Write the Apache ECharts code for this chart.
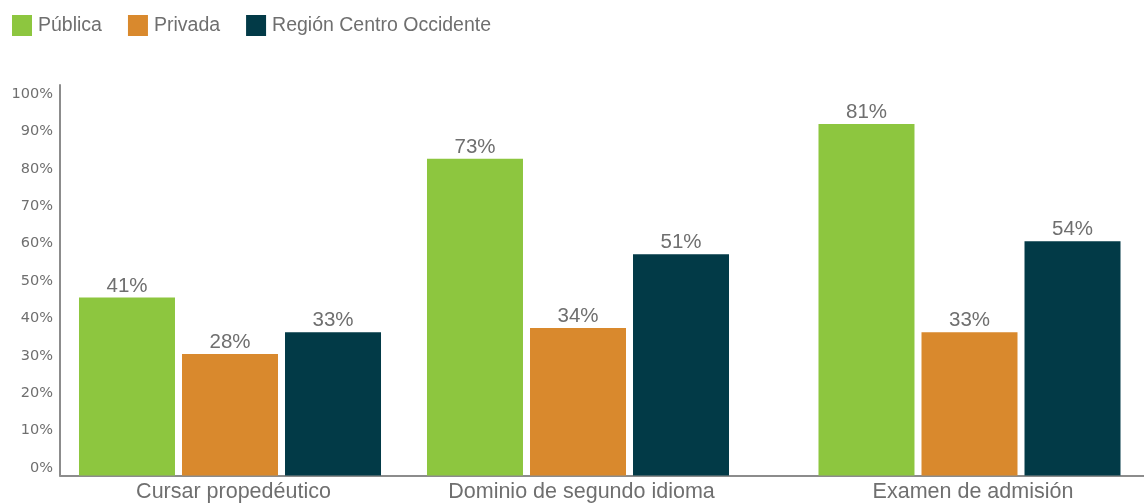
<!DOCTYPE html>
<html>
<head>
<meta charset="utf-8">
<script src="https://cdn.jsdelivr.net/npm/echarts@6/dist/echarts.min.js"></script>
<style>
html,body{margin:0;padding:0;background:#fff;}
#chart{width:1144px;height:503px;}
</style>
</head>
<body>
<div id="chart"></div>
<script>
// ---- data ----
const categories = ['Cursar propedéutico', 'Dominio de segundo idioma', 'Examen de admisión'];
const seriesNames = ['Pública', 'Privada', 'Región Centro Occidente'];
const publica = [41, 73, 81];
const privada = [28, 34, 33];
const region = [33, 51, 54];
const tickMin = 0, tickMax = 100, tickStep = 10;

// ---- layout helpers (positions of the groups along the category band) ----
const slotOf = [0, 8, 17];
const slotCount = 18;
const slotCats = Array(slotCount).fill('');
slotOf.forEach((s, i) => { slotCats[s] = categories[i]; });
function spread(vals) {
  const arr = Array(slotCount).fill(null);
  slotOf.forEach((s, i) => { arr[s] = vals[i]; });
  return arr;
}

const colors = ['#8dc63f', '#d9892d', '#023a47'];
const grey = '#6f6f6f';
const axisGrey = '#8c8c8c';
const ff = '"Liberation Sans", Arial, sans-serif';

const chart = echarts.init(document.getElementById('chart'), null, {renderer: 'canvas'});
const seriesData = [publica, privada, region];

chart.setOption({
  animation: false,
  backgroundColor: '#ffffff',
  color: colors,
  legend: {
    data: seriesNames,
    left: 12, top: 15, padding: 0,
    icon: 'rect', itemWidth: 20, itemHeight: 21, itemGap: 26,
    textStyle: {fontFamily: ff, fontSize: 19.5, color: grey, padding: [2, 0, 0, 1]}
  },
  grid: [
    {left: 60, right: -5, top: 85, bottom: 27.5, containLabel: false, outerBoundsMode: 'none'},   // axis lines
    {left: 208.25, right: 152.75, top: 85, bottom: 27.5, containLabel: false, outerBoundsMode: 'none'}, // bars
    {left: 60, right: 0, top: 94, bottom: 35, containLabel: false, outerBoundsMode: 'none'}  // tick labels
  ],
  xAxis: [
    {gridIndex: 0, type: 'category', data: [''], axisLine: {show: true, lineStyle: {color: axisGrey, width: 2}},
     axisTick: {show: false}, axisLabel: {show: false}},
    {gridIndex: 1, type: 'category', data: slotCats, axisLine: {show: false}, axisTick: {show: false},
     axisLabel: {show: true, interval: 0, margin: 6, fontFamily: ff, fontSize: 21.5, color: grey,
                 padding: [0, 0, 0, 7]}},
    {gridIndex: 2, type: 'category', data: [''], show: false}
  ],
  yAxis: [
    {gridIndex: 0, type: 'value', min: 0, max: 90, axisLine: {show: true, lineStyle: {color: axisGrey, width: 2}},
     axisTick: {show: false}, axisLabel: {show: false}, splitLine: {show: false}},
    {gridIndex: 1, type: 'value', min: 0, max: 90, show: false, splitLine: {show: false}},
    {gridIndex: 2, type: 'value', min: tickMin, max: tickMax, interval: tickStep,
     axisLine: {show: false}, axisTick: {show: false}, splitLine: {show: false},
     axisLabel: {show: true, margin: 7, formatter: '{value}%', fontFamily: '"DejaVu Sans", sans-serif', fontSize: 14.5, color: grey}}
  ],
  series: seriesNames.map((name, i) => ({
    name: name,
    type: 'bar',
    xAxisIndex: 1, yAxisIndex: 1,
    clip: false,
    data: spread(seriesData[i]),
    barWidth: 96,
    barGap: '7.3%',
    itemStyle: {color: colors[i]},
    label: {show: true, position: 'top', distance: 1, formatter: p => p.value + '%',
            fontFamily: ff, fontSize: 20.5, color: grey}
  }))
});
</script>
</body>
</html>
